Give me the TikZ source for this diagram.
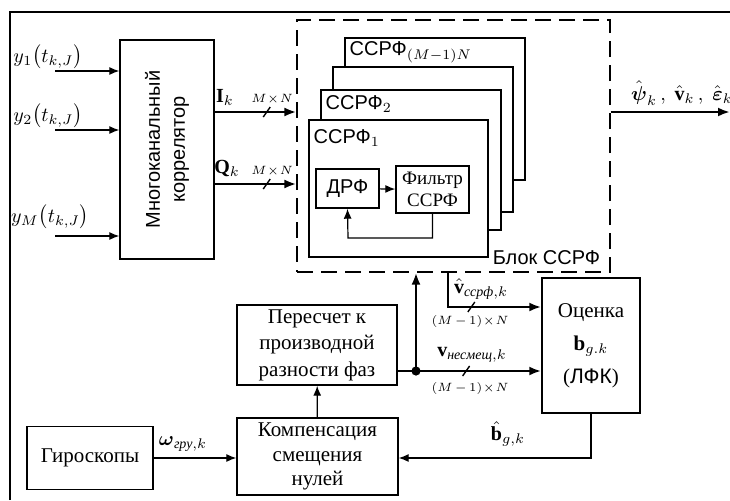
\documentclass[tikz,border=0pt]{standalone}
\usepackage{amsmath,amssymb}
\usepackage{fontspec}
\setmainfont{Liberation Serif}
\setsansfont{Liberation Sans}
\usepackage{tikz}
\usetikzlibrary{positioning, arrows.meta, calc}

\begin{document}
\begin{tikzpicture}[
  x=0.5pt, y=-0.5pt,
  block/.style={rectangle, draw, line width=0.7pt, fill=white, inner sep=1pt,
    align=center, font=\fontsize{10.5}{13.3}\selectfont},
  ssrf/.style={rectangle, draw, line width=0.7pt, fill=white},
  arrow/.style={-{Latex[length=5pt, width=4pt]}, line width=0.6pt},
  bus/.style={-{Latex[length=6pt, width=4.5pt]}, line width=1.3pt},
  lbl/.style={font=\fontsize{10}{12}\selectfont, inner sep=1pt},
  sflbl/.style={font=\fontsize{10}{12}\selectfont\sffamily, inner sep=1pt},
  dim/.style={font=\fontsize{6}{7}\selectfont, inner sep=1pt},
  tick/.style={line width=0.7pt}
]
  \useasboundingbox (0,0) rectangle (730,500);
  % Page frame
  \draw[line width=0.6pt] (10,500) -- (10,12) -- (730,12);

  % Correlator and inputs
  \node[block, minimum width=47pt, minimum height=109.5pt] (corr) at (167,149.5) {};
  \node[font=\fontsize{10}{12.5}\selectfont\sffamily, align=center, rotate=90] (corrtxt) at (corr.center) {Многоканальный\\коррелятор};
  \coordinate (in1) at (55,71);
  \coordinate (in2) at (55,130);
  \coordinate (in3) at (55,236);
  \draw[arrow] (in1) -- (corr.west |- in1);
  \draw[arrow] (in2) -- (corr.west |- in2);
  \draw[arrow] (in3) -- (corr.west |- in3);
  \node[lbl] (y1) at (48,57) {$y_1\big(t_{k,J}\big)$};
  \node[lbl] (y2) at (48,116) {$y_2\big(t_{k,J}\big)$};
  \node[lbl] (yM) at (50,217) {$y_M\big(t_{k,J}\big)$};

  % SSRF block
  \node[draw, line width=0.6pt, dash pattern=on 8pt off 4pt,
    minimum width=156.5pt, minimum height=126pt] (blk) at (453.5,146) {};
  \node[sflbl, anchor=south east] (blktxt) at ([xshift=-4pt, yshift=3pt]blk.south east) {Блок ССРФ};
  \node[ssrf, minimum width=90pt, minimum height=71pt] (s4) at (435,109) {};
  \node[ssrf, minimum width=90pt, minimum height=72.5pt] (s3) at (423,139.5) {};
  \node[ssrf, minimum width=90pt, minimum height=70pt] (s2) at (411,160) {};
  \node[ssrf, minimum width=89.5pt, minimum height=68.5pt] (s1) at (398.5,188.5) {};
  \node[sflbl, anchor=north west] (s4txt) at ([xshift=1.5pt, yshift=-1pt]s4.north west) {ССРФ$_{(M-1)N}$};
  \node[sflbl, anchor=north west] (s2txt) at ([xshift=1.5pt, yshift=-2pt]s2.north west) {ССРФ$_2$};
  \node[sflbl, anchor=north west] (s1txt) at ([xshift=1.5pt, yshift=-4pt]s1.north west) {ССРФ$_1$};
  \node[block, font=\fontsize{10}{12}\selectfont\sffamily, minimum width=31.5pt, minimum height=19.5pt] (drf) at (347.5,188.5) {ДРФ};
  \node[block, font=\fontsize{9.5}{11}\selectfont, minimum width=36.5pt, minimum height=23.5pt] (flt) at (432.5,189.5) {Фильтр\\ССРФ};
  \coordinate (fb) at (348,238);
  \draw[arrow] (drf) -- (flt);
  \draw[arrow] (flt.south) |- (fb) -- (drf.south);

  % I and Q buses
  \coordinate (Irow) at (214,112);
  \coordinate (Qrow) at (214,184);
  \draw[bus] (Irow) -- (blk.west |- Irow) coordinate[pos=0.64] (tI);
  \draw[bus] (Qrow) -- (blk.west |- Qrow) coordinate[pos=0.64] (tQ);
  \draw[tick] ([shift={(-3.5,5)}]tI) -- ([shift={(3.5,-5)}]tI);
  \draw[tick] ([shift={(-3.5,5)}]tQ) -- ([shift={(3.5,-5)}]tQ);
  \node[lbl] (Ilbl) at (225,97) {$\mathbf{I}_k$};
  \node[lbl] (Qlbl) at (227,168) {$\mathbf{Q}_k$};
  \node[dim] (Idim) at (272,99) {$M\!\times\! N$};
  \node[dim] (Qdim) at (272,171) {$M\!\times\! N$};

  % Output
  \coordinate (outEnd) at (730,112);
  \draw[bus] (blk.east |- outEnd) -- (outEnd);
  \node[lbl] (outlbl) at (682,93) {$\hat{\boldsymbol{\psi}}_k\,,\;\hat{\mathbf{v}}_k\,,\;\hat{\boldsymbol{\varepsilon}}_k$};

  % Lower blocks
  \node[block, minimum width=80pt, minimum height=40pt] (recalc) at (317,345) {Пересчет к\\производной\\разности фаз};
  \node[block, minimum width=80.5pt, minimum height=38.5pt, font=\fontsize{10.5}{12.2}\selectfont] (comp) at (317.5,456.5) {Компенсация\\смещения\\нулей};
  \node[block, minimum width=63pt, minimum height=31.5pt] (gyro) at (90,458) {Гироскопы};
  \node[block, minimum width=49pt, minimum height=67.5pt, font=\fontsize{10.5}{16.5}\selectfont] (est) at (591,345.5) {Оценка\\$\mathbf{b}_{g.k}$\\({\sffamily ЛФК})};

  \draw[arrow] (comp) -- (recalc);
  \draw[arrow] (gyro.east) -- (comp.west |- gyro.east);
  \node[lbl] (omlbl) at (183,444) {$\boldsymbol{\omega}_{\text{\itshape гру},k}$};
  \draw[arrow] (est.south) |- (comp.east |- gyro.east);
  \node[lbl] (bhlbl) at (508,434) {$\hat{\mathbf{b}}_{g,k}$};

  % Junction and velocity buses
  \coordinate (jn) at (416,371);
  \draw[line width=1.3pt] (recalc.east |- jn) -- (jn);
  \fill (jn) circle[radius=2.3pt];
  \draw[bus] (jn) -- (blk.south -| jn);
  \draw[bus] (jn) -- (est.west |- jn) coordinate[pos=0.4] (tV);
  \draw[tick] ([shift={(-3.5,5)}]tV) -- ([shift={(3.5,-5)}]tV);
  \node[lbl] (vlbl) at (472,355) {$\mathbf{v}_{\text{\itshape несмещ},k}$};
  \node[dim] (vdim) at (470,388) {$(M\,{-}\,1)\!\times\! N$};

  \coordinate (vtop) at (448,272);
  \coordinate (vrow) at (448,307);
  \draw[bus] (vtop) -- (vrow) -- (est.west |- vrow) coordinate[pos=0.25] (tW);
  \draw[tick] ([shift={(-3.5,5)}]tW) -- ([shift={(3.5,-5)}]tW);
  \node[lbl] (vhlbl) at (481,289) {$\hat{\mathbf{v}}_{\text{\itshape ссрф},k}$};
  \node[dim] (vhdim) at (470,321) {$(M\,{-}\,1)\!\times\! N$};
\end{tikzpicture}
\end{document}
